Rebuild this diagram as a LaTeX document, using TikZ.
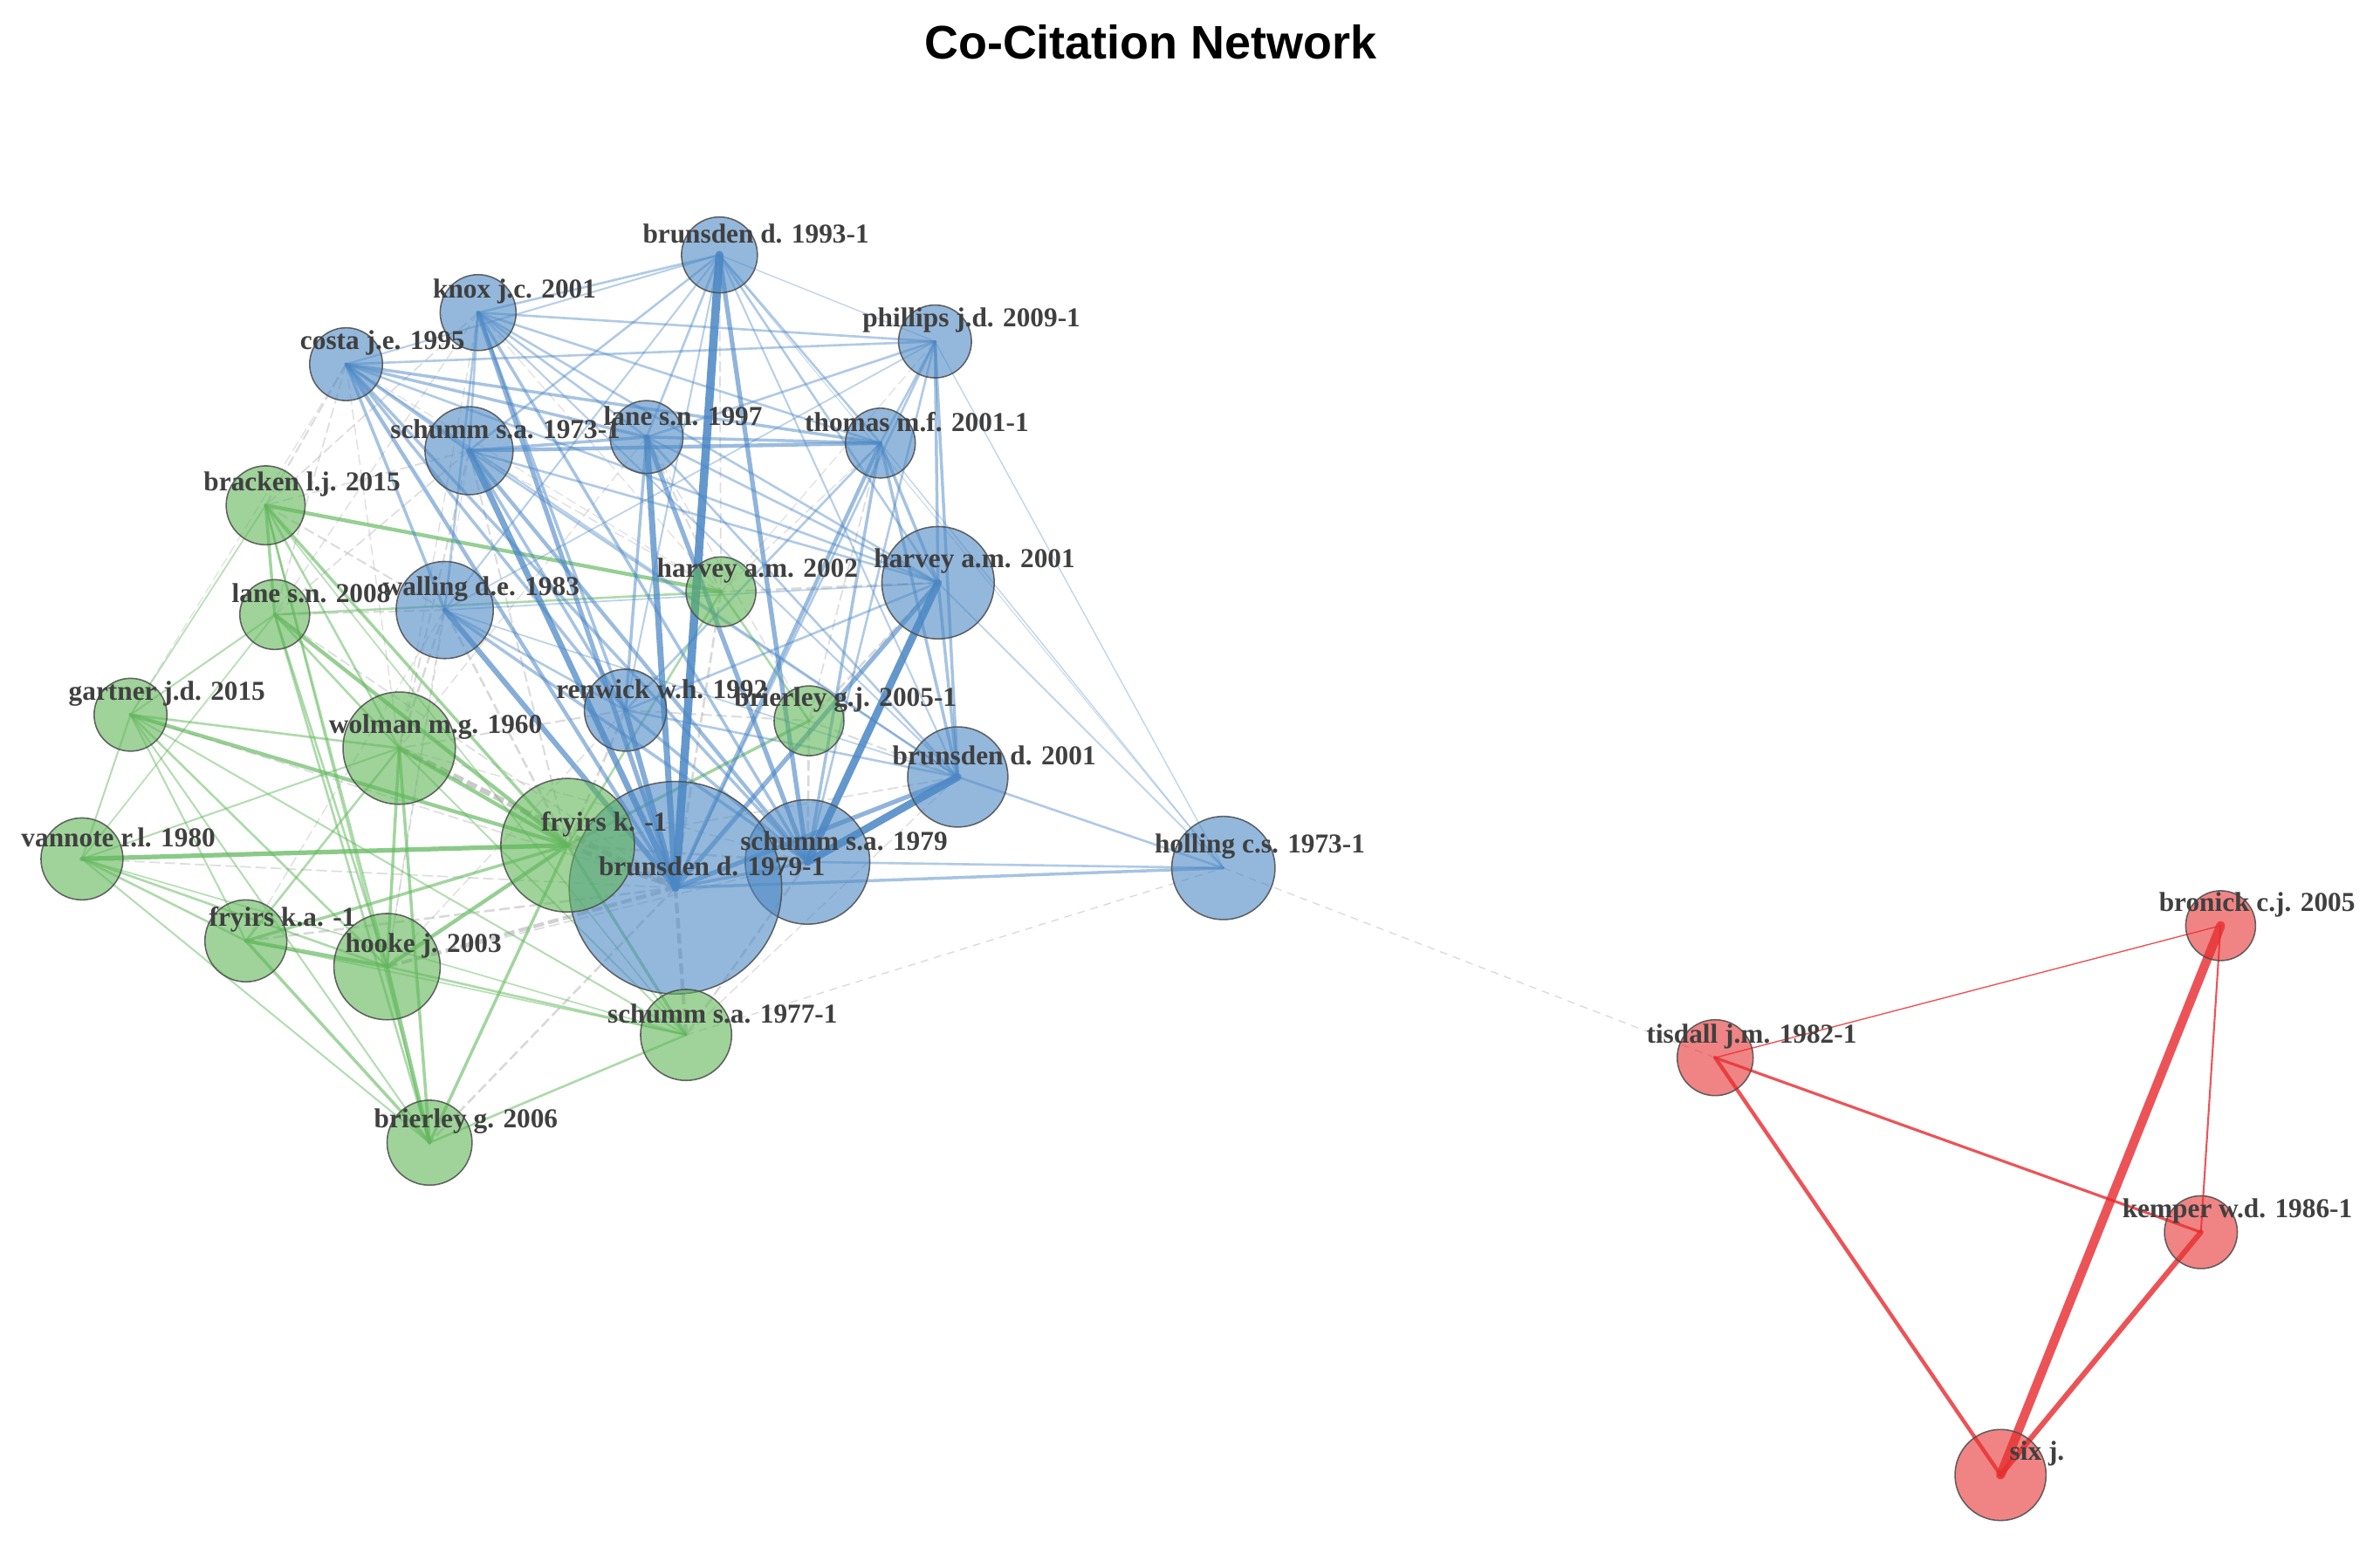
\documentclass[tikz,border=0pt]{standalone}
\usepackage{fontspec}
\setmainfont{Liberation Serif}
\newfontfamily\titlefont{Liberation Sans}
\pgfdeclarelayer{edges}
\pgfdeclarelayer{labels}
\pgfsetlayers{edges,main,labels}
\definecolor{nblue}{RGB}{77,137,197}
\definecolor{ngreen}{RGB}{95,182,88}
\definecolor{nred}{RGB}{230,50,50}
\definecolor{eblue}{RGB}{74,134,197}
\definecolor{egreen}{RGB}{100,185,95}
\definecolor{egray}{RGB}{185,185,185}
\definecolor{ered}{RGB}{232,40,45}
\tikzset{
  vtx/.style={circle, inner sep=0pt, minimum size=#1, draw=black!70, draw opacity=0.85, line width=0.9pt, fill opacity=0.6},
  bnode/.style={vtx=#1, fill=nblue},
  gnode/.style={vtx=#1, fill=ngreen},
  rnode/.style={vtx=#1, fill=nred},
  lab/.style={font=\fontsize{18}{20}\selectfont\bfseries, text=black!75, inner sep=0pt},
  be/.style={draw=eblue, line width=#1pt, line cap=round},
  ge/.style={draw=egreen, line width=#1pt, line cap=round},
  ye/.style={draw=egray, line width=#1pt, dash pattern=on 7pt off 3pt},
  fe/.style={draw=egray, line width=#1pt, draw opacity=0.5, dash pattern=on 5pt off 4pt},
  re/.style={draw=ered, line width=#1pt, draw opacity=0.8, line cap=round},
}
\begin{document}
\begin{tikzpicture}[x=1pt,y=-1pt]
\useasboundingbox (0,0) rectangle (1568,1019);
\begin{pgfonlayer}{edges}
\fill[white] (0,0) rectangle (1568,1019);
\end{pgfonlayer}
% title
\node[font=\titlefont\fontsize{31}{36}\selectfont\bfseries, inner sep=0pt] (title) at (758,28) {Co-Citation Network};
% blue cluster
\node[bnode=50pt] (b93) at (474,168) {};
\node[bnode=50pt] (knox) at (315,206) {};
\node[bnode=48pt] (costa) at (228,240) {};
\node[bnode=48pt] (phil) at (616,225) {};
\node[bnode=58pt] (s73) at (309,297) {};
\node[bnode=48pt] (lane97) at (426,288) {};
\node[bnode=46pt] (thomas) at (580,292) {};
\node[bnode=74pt] (harv01) at (618,384) {};
\node[bnode=64pt] (wall) at (293,402) {};
\node[bnode=54pt] (renw) at (412,468) {};
\node[bnode=66pt] (b01) at (631,512) {};
\node[bnode=82pt] (s79) at (532,568) {};
\node[bnode=140pt] (b79) at (445,585) {};
\node[bnode=68pt] (holl) at (806,572) {};
% green cluster
\node[gnode=52pt] (brack) at (175,333) {};
\node[gnode=46pt] (lane08) at (181,405) {};
\node[gnode=46pt] (harv02) at (475,390) {};
\node[gnode=48pt] (gart) at (86,471) {};
\node[gnode=46pt] (brier05) at (533,475) {};
\node[gnode=74pt] (wolm) at (263,493) {};
\node[gnode=88pt] (fryk) at (374,557) {};
\node[gnode=54pt] (vann) at (54,566) {};
\node[gnode=54pt] (fryka) at (162,620) {};
\node[gnode=70pt] (hooke) at (255,637) {};
\node[gnode=60pt] (s77) at (452,682) {};
\node[gnode=56pt] (brier06) at (283,753) {};
% red cluster
\node[rnode=46pt] (brun) at (1463,610) {};
\node[rnode=50pt] (tisd) at (1130,697) {};
\node[rnode=48pt] (kemp) at (1450,812) {};
\node[rnode=60pt] (six) at (1318,972) {};

\begin{pgfonlayer}{edges}
% faint links between the two components
\foreach \a/\b/\w in {s77/holl/0.8, holl/tisd/0.8}
  \draw[fe=\w] (\a.center) -- (\b.center);
% grey links between blue and green groups
\foreach \a/\b/\w in {wolm/b79/3.5, fryk/b79/3, hooke/b79/2.5, wall/fryk/1.5, wall/wolm/1.5,
  s73/wolm/1.2, s73/fryk/1.2, costa/brack/1.2, costa/lane08/1, knox/brack/1,
  b79/s77/2.5, b79/brier06/1.5, s79/s77/1.5, b79/harv02/1.5, s79/brier05/1.5,
  harv01/brier05/1.5, lane97/harv02/1.2, b93/harv02/1, renw/wolm/1.2, renw/fryk/1.5,
  b79/gart/1, b79/vann/1, b79/fryka/1.5, wall/lane08/1.2, wall/brack/1.2, s73/brack/1,
  thomas/brier05/1, b01/brier05/1.2, harv01/harv02/1.5, b01/fryk/1, b79/lane08/1,
  s79/fryk/1.5, renw/brier05/1.2, hooke/s79/1, wall/hooke/1, s73/lane08/1, costa/wolm/0.8,
  knox/lane08/0.8, costa/gart/0.7, knox/wolm/0.8, lane97/wolm/0.8, thomas/harv02/0.8,
  phil/harv02/0.7, lane97/brier05/0.8, s73/harv02/0.8, costa/harv02/0.7, knox/harv02/0.7,
  renw/hooke/0.8, wall/fryka/0.8, s73/hooke/0.7, b01/s77/0.8, s79/wolm/0.8}
  {\pgfmathsetmacro\op{min(0.8,0.35+0.12*\w)}
   \draw[ye=\w, draw opacity=\op] (\a.center) -- (\b.center);}
% green links
\foreach \a/\b/\w in {brack/lane08/2, brack/gart/1, brack/wolm/1.5, brack/fryk/2, brack/hooke/1.5,
  brack/brier06/1.2, brack/harv02/2.5, brack/s77/1, lane08/gart/1.2, lane08/wolm/1.5,
  lane08/fryk/2.5, lane08/hooke/1.5, lane08/brier06/1.5, lane08/harv02/1.5, lane08/vann/1,
  gart/vann/1.2, gart/wolm/1.5, gart/fryk/2.5, gart/hooke/1.5, gart/fryka/1.2,
  gart/brier06/1.2, gart/s77/1.2, vann/fryk/3, vann/fryka/1.5, vann/hooke/1.5,
  vann/brier06/1.2, vann/wolm/1.2, vann/s77/1, wolm/fryk/2.5, wolm/hooke/2,
  wolm/brier06/2, wolm/fryka/1.5, wolm/s77/1.2, fryk/hooke/2.5, fryk/fryka/2,
  fryk/brier06/2, fryk/s77/2, fryk/brier05/2, fryk/harv02/1.5, hooke/brier06/2.5,
  hooke/fryka/2.5, hooke/s77/1.5, fryka/brier06/2, brier06/s77/1.5, harv02/brier05/1.5,
  fryka/s77/1}
  {\pgfmathsetmacro\op{min(0.85,0.3+0.15*\w)}
   \draw[ge=\w, draw opacity=\op] (\a.center) -- (\b.center);}
% blue links
\foreach \a/\b/\w in {b93/b79/5.5, lane97/b79/4, harv01/s79/5, b01/s79/5, b01/b79/3,
  s73/b79/4, wall/b79/3.5, renw/b79/3.5, knox/b79/3, costa/b79/2.5, thomas/b79/2.5,
  harv01/b79/3, b93/s79/3, lane97/s79/3, phil/b79/1.5, harv01/b01/2, phil/b01/2,
  s73/s79/2.5, knox/s79/2, costa/s79/2, thomas/s79/2, renw/s79/2, wall/s79/2,
  holl/b79/2, holl/s79/1.5, holl/b01/1.5, holl/harv01/1, holl/phil/0.8, holl/thomas/0.8,
  holl/b93/0.6, b93/knox/1.5, b93/costa/1.2, b93/lane97/1.5, b93/thomas/1.5, b93/s73/1.5,
  b93/harv01/1.5, b93/phil/0.8, b93/wall/1.2, b93/renw/1.2, b93/b01/1.2, knox/phil/1.5,
  costa/phil/1.5, costa/thomas/2, costa/lane97/2, knox/thomas/1.5, knox/lane97/1.5,
  s73/thomas/2.5, s73/lane97/2, lane97/thomas/2, lane97/phil/1.5, thomas/phil/1.5,
  knox/s73/1.5, costa/s73/2, costa/wall/2, knox/wall/1.5, knox/renw/2, costa/renw/2,
  phil/harv01/2, phil/s79/1.5, phil/wall/1, thomas/harv01/2, thomas/b01/2, thomas/renw/1.5,
  lane97/harv01/1.5, lane97/b01/1.5, lane97/renw/2, s73/renw/2, s73/harv01/1.5,
  s73/b01/1.5, wall/renw/1.5, wall/harv01/1, wall/b01/1, renw/b01/1.5, harv01/renw/1.5,
  costa/harv01/1.5, knox/harv01/1.5, costa/b01/1.2, knox/b01/1.2, s79/b79/2}
  {\pgfmathsetmacro\op{min(0.85,0.25+0.12*\w)}
   \draw[be=\w, draw opacity=\op] (\a.center) -- (\b.center);}
% red links
\foreach \a/\b/\w in {tisd/brun/0.8, brun/kemp/1.2, tisd/kemp/1.8, tisd/six/2.5, kemp/six/3.5, brun/six/6}
  \draw[re=\w] (\a.center) -- (\b.center);
\end{pgfonlayer}

\begin{pgfonlayer}{labels}
\foreach \n/\t in {b93/{brunsden d. 1993-1}, knox/{knox j.c. 2001}, costa/{costa j.e. 1995},
  phil/{phillips j.d. 2009-1}, s73/{schumm s.a. 1973-1}, lane97/{lane s.n. 1997},
  thomas/{thomas m.f. 2001-1}, harv01/{harvey a.m. 2001}, wall/{walling d.e. 1983},
  renw/{renwick w.h. 1992}, b01/{brunsden d. 2001}, s79/{schumm s.a. 1979},
  b79/{brunsden d. 1979-1}, holl/{holling c.s. 1973-1},
  brack/{bracken l.j. 2015}, lane08/{lane s.n. 2008}, harv02/{harvey a.m. 2002},
  gart/{gartner j.d. 2015}, brier05/{brierley g.j. 2005-1}, wolm/{wolman m.g. 1960},
  fryk/{fryirs k. -1}, vann/{vannote r.l. 1980}, fryka/{fryirs k.a. -1},
  hooke/{hooke j. 2003}, s77/{schumm s.a. 1977-1}, brier06/{brierley g. 2006},
  brun/{bronick c.j. 2005}, tisd/{tisdall j.m. 1982-1}, kemp/{kemper w.d. 1986-1}, six/{six j.}}
  \node[lab] (l-\n) at ([shift={(24,-14)}]\n.center) {\t};
\end{pgfonlayer}
\end{tikzpicture}
\end{document}
